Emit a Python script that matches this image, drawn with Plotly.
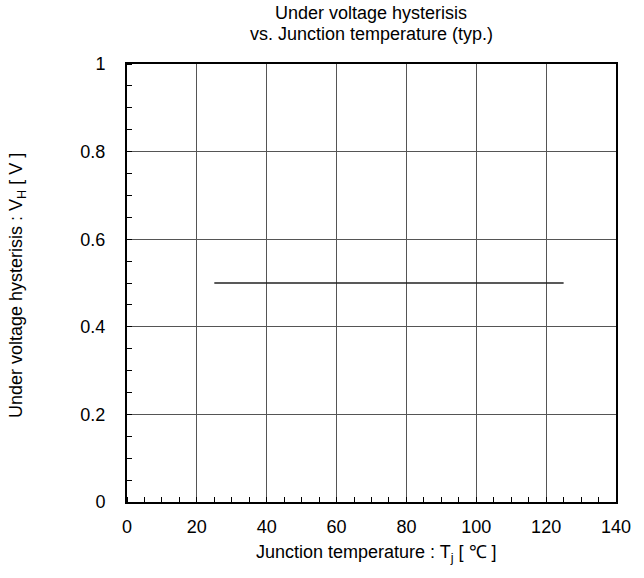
import plotly.graph_objects as go

temps = [25, 125]
hysteresis = [0.5, 0.5]

x_ticks = [0, 20, 40, 60, 80, 100, 120, 140]
y_ticks = [0, 0.2, 0.4, 0.6, 0.8, 1]
y_labels = ["0", "0.2", "0.4", "0.6", "0.8", "1"]

title_lines = ["Under voltage hysterisis", "vs. Junction temperature (typ.)"]
x_title = "Junction temperature : T<sub>j</sub> [ ℃ ]"
y_title = "Under voltage hysterisis : V<sub>H</sub> [ V ]"

W, H = 644, 578
L, R, T, B = 127, 28, 64, 76
PW, PH = W - L - R, H - T - B


def px_x(x):
    return (x - L) / PW


def px_y(y):
    return (H - B - y) / PH


fig = go.Figure()
fig.add_trace(go.Scatter(x=temps, y=hysteresis, mode="lines",
                         line=dict(color="#222222", width=1.5), showlegend=False))

font = "Liberation Sans, Arial, sans-serif"
fig.update_layout(
    width=W, height=H,
    margin=dict(l=L, r=R, t=T, b=B),
    paper_bgcolor="white", plot_bgcolor="white",
    font=dict(family=font, color="#000000", size=16),
)
for text, ypx in zip(title_lines, [13, 34]):
    fig.add_annotation(text=text, xref="paper", yref="paper", x=px_x(371), y=px_y(ypx),
                       xanchor="center", yanchor="middle", showarrow=False,
                       font=dict(size=18, family=font, color="#000000"))
fig.add_annotation(text=x_title, xref="paper", yref="paper", x=px_x(376), y=px_y(553),
                   xanchor="center", yanchor="middle", showarrow=False,
                   font=dict(size=18, family=font, color="#000000"))
fig.add_annotation(text=y_title, xref="paper", yref="paper", x=px_x(17), y=px_y(286),
                   xanchor="center", yanchor="middle", showarrow=False, textangle=-90,
                   font=dict(size=18, family=font, color="#000000"))

fig.update_xaxes(
    range=[0, 140], tickvals=x_ticks, ticks="", showgrid=True,
    gridcolor="#555555", gridwidth=1, zeroline=False,
    showline=True, linecolor="#000000", linewidth=2, mirror=True,
    tickfont=dict(size=18), ticklabelstandoff=7,
    minor=dict(ticks="inside", dtick=5, ticklen=5, tickcolor="#000000", showgrid=False),
)
fig.update_yaxes(
    range=[0, 1], tickvals=y_ticks, ticktext=y_labels, ticks="", showgrid=True,
    gridcolor="#555555", gridwidth=1, zeroline=False,
    showline=True, linecolor="#000000", linewidth=2, mirror=True,
    tickfont=dict(size=18), ticklabelstandoff=16,
    minor=dict(ticks="inside", dtick=0.05, ticklen=5, tickcolor="#000000", showgrid=False),
)

fig.write_html("out.html", config={"displayModeBar": False},
               post_script="document.body.style.margin='0';")
